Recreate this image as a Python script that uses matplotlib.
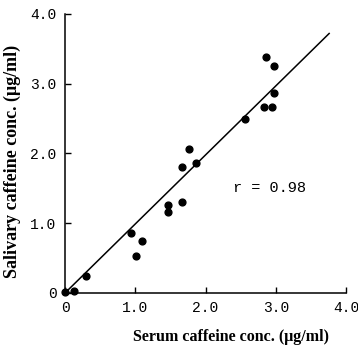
import matplotlib
matplotlib.use("Agg")
import matplotlib.pyplot as plt
import numpy as np

# serum vs salivary caffeine concentrations (ug/ml)
serum = [0.00, 0.13, 0.30, 0.94, 1.01, 1.09, 1.46, 1.46, 1.66, 1.66, 1.76,
         1.86, 2.56, 2.83, 2.86, 2.94, 2.97, 2.97]
saliva = [0.01, 0.03, 0.24, 0.86, 0.53, 0.74, 1.26, 1.16, 1.31, 1.81, 2.07,
          1.87, 2.50, 2.66, 3.39, 2.66, 2.86, 3.26]

# regression line end points
line_x = [0.0, 3.76]
line_y = [0.0, 3.72]

xticks = [0, 1, 2, 3, 4]
xtick_labels = ["0", "1.0", "2.0", "3.0", "4.0"]
yticks = [0, 1, 2, 3, 4]
ytick_labels = ["0", "1.0", "2.0", "3.0", "4.0"]

fig = plt.figure(figsize=(3.58, 3.49), dpi=100)
ax = fig.add_axes([0.1816, 0.1605, 0.7849, 0.7995])

ax.plot(line_x, line_y, color="black", lw=1.1)
ax.scatter(serum, saliva, s=24, color="black", zorder=3, clip_on=False)

ax.set_xlim(0, 4.0)
ax.set_ylim(0, 4.0)
ax.spines["top"].set_visible(False)
ax.spines["right"].set_visible(False)
ax.spines["left"].set_linewidth(1.1)
ax.spines["bottom"].set_linewidth(1.1)

ax.set_xticks(xticks)
ax.set_xticklabels(xtick_labels, family="Liberation Mono", fontsize=10.5)
ax.set_yticks(yticks)
ax.set_yticklabels(ytick_labels, family="Liberation Mono", fontsize=10.5)
ax.tick_params(direction="in", length=4, width=1, pad=6)

ax.text(2.39, 1.51, "r = 0.98", family="Liberation Mono", fontsize=11,
        va="center", ha="left")

ax.set_xlabel("Serum caffeine conc. (\u03bcg/ml)", family="Liberation Serif",
              fontweight="bold", fontsize=11.5)
ax.set_ylabel("Salivary caffeine conc. (\u03bcg/ml)", family="Liberation Serif",
              fontweight="bold", fontsize=13)
# labels sit off-centre in the original
ax.xaxis.set_label_coords(0.59, -0.128)
ax.yaxis.set_label_coords(-0.155, 0.47)

fig.savefig("out.png", dpi=100)
